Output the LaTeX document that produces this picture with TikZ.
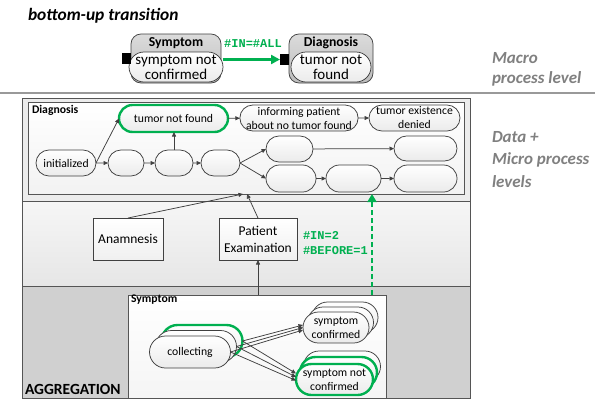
\documentclass[tikz,border=0pt]{standalone}
\usepackage{fontspec}
\setmainfont{Carlito}
\newfontfamily\codefont{Liberation Mono}
\usetikzlibrary{arrows.meta,shapes.misc,calc}

\definecolor{okgreen}{RGB}{0,176,80}
\definecolor{edgegray}{RGB}{64,64,64}
\definecolor{framegray}{RGB}{85,85,85}
\definecolor{labelgray}{RGB}{128,128,128}
\definecolor{bandA}{RGB}{236,236,236}
\definecolor{bandBtop}{RGB}{246,246,246}
\definecolor{bandBbot}{RGB}{230,230,230}
\definecolor{bandC}{RGB}{208,208,208}

\begin{document}
\begin{tikzpicture}[x=1pt,y=-1pt,
  every node/.style={inner sep=0pt, outer sep=0pt},
  txt/.style={font=\fontsize{11.7}{14}\selectfont},
  st/.style={rounded rectangle, draw=edgegray, line width=0.75pt,
    top color=white, bottom color=black!8, minimum height=26pt,
    align=center, txt},
  hl/.style={draw=okgreen, line width=2.4pt},
  arr/.style={draw=edgegray, line width=0.75pt,
    -{Triangle[length=4.5pt,width=4pt]}},
  box/.style={rectangle, draw=edgegray, line width=0.75pt,
    top color=white, bottom color=black!6, align=center,
    font=\fontsize{13.5}{17}\selectfont},
  lbl/.style={anchor=west, font=\bfseries\fontsize{11.7}{14}\selectfont},
  code/.style={font=\codefont\bfseries\fontsize{12}{16}\selectfont, text=okgreen},
  side/.style={anchor=north west, align=left, text=labelgray},
  macroout/.style={rectangle, rounded corners=10pt, draw=edgegray,
    line width=0.75pt, top color=black!14, bottom color=black!26,
    minimum width=90pt, minimum height=49pt},
  macroin/.style={rounded rectangle, draw=edgegray, line width=0.75pt,
    top color=white, bottom color=black!8, minimum height=30pt,
    align=center, font=\fontsize{15}{15}\selectfont},
  macrotitle/.style={font=\bfseries\fontsize{13.7}{16}\selectfont},
  port/.style={rectangle, fill=black, minimum width=9pt, minimum height=11pt},
  greenarr/.style={draw=okgreen, line width=2.4pt,
    -{Triangle[length=9pt,width=9pt]}},
  greendash/.style={draw=okgreen, line width=2.4pt,
    dash pattern=on 5pt off 3pt, -{Triangle[length=8pt,width=9pt]}}
]
\useasboundingbox (0,0) rectangle (595,400);
\fill[white] (0,0) rectangle (595,400);

% heading and level captions
\node[anchor=base west, font=\bfseries\itshape\fontsize{17.4}{20}\selectfont]
  (title) at (28,20) {bottom-up transition};
\node[side, font=\bfseries\itshape\fontsize{17}{20}\selectfont]
  (macrolevel) at (492,52) {Macro\\process level};
\node[side, font=\bfseries\itshape\fontsize{17}{22.5}\selectfont]
  (microlevel) at (492,131) {Data +\\Micro process\\levels};
\draw[black!40, line width=1.2pt] (0,93) -- (595,93);

% macro process level
\node[macroout] (symOuter) at (176,58.5) {};
\node[macroin, minimum width=86pt] (symInner) at (176,67) {symptom not\\confirmed};
\node[macrotitle] (symTitle) at (176,43) {Symptom};
\node[port] (symPort) at (126.5,58.5) {};

\node[macroout, minimum width=84pt] (diaOuter) at (331,58.5) {};
\node[macroin, minimum width=80pt] (diaInner) at (331,67) {tumor not\\found};
\node[macrotitle] (diaTitle) at (331,43) {Diagnosis};
\node[port] (diaPort) at (284.5,59.5) {};

\draw[greenarr] (symInner.east |- diaPort.west) -- (diaPort.west);
\node[code] (allLabel) at (253,44) {\#IN=\#ALL};

% the three bands
\fill[bandA] (22,98) rectangle (470,201);
\shade[top color=bandBtop, bottom color=bandBbot] (22,201) rectangle (470,286);
\fill[bandC] (22,286) rectangle (470,398);
\draw[framegray, line width=0.8pt] (22,98) rectangle (470,398);
\draw[framegray, line width=0.8pt] (22,201) -- (470,201);
\draw[framegray, line width=0.8pt] (22,286) -- (470,286);
\node[anchor=base west, font=\bfseries\fontsize{15.5}{18}\selectfont]
  (aggr) at (25,394) {AGGREGATION};

% Diagnosis process model
\node[rectangle, draw=framegray, line width=0.8pt, top color=white,
  bottom color=black!5, minimum width=436pt, minimum height=92pt]
  (diagbox) at (246,148) {};
\node[lbl] (diagLabel) at (32,110) {Diagnosis};

\node[st, minimum width=60pt] (init) at (66,163) {initialized};
\node[st, minimum width=36pt] (e1) at (126,163) {};
\node[st, minimum width=38pt] (e2) at (174,163) {};
\node[st, minimum width=39pt] (e3) at (220.5,163) {};
\node[st, hl, minimum width=109pt, minimum height=27pt] (tnf) at (173.5,118.5) {tumor not found};
\node[st, minimum width=118pt] (inf) at (299,118) {informing patient\\about no tumor found};
\node[st, minimum width=91pt] (den) at (414.5,118) {tumor existence\\denied};
\node[st, minimum width=47pt] (ua) at (289.5,149) {};
\node[st, minimum width=63pt, minimum height=25pt] (ub) at (425.5,148.5) {};
\node[st, minimum width=50pt, minimum height=27pt] (la) at (291,178.5) {};
\node[st, minimum width=55pt, minimum height=27pt] (lb) at (353.5,178.5) {};
\node[st, minimum width=63pt, minimum height=27pt] (lc) at (425.5,178.5) {};

\draw[arr] (init.east) -- (tnf.west);
\draw[arr] (init) -- (e1);
\draw[arr] (e1) -- (e2);
\draw[arr] (e2) -- (e3);
\draw[arr] (e2.north) -- (e2.north |- tnf.south);
\draw[arr] (tnf) -- (inf);
\draw[arr] (inf) -- (den);
\draw[arr] (e3.east) -- (ua.west);
\draw[arr] (e3.east) -- (la.west);
\draw[arr] (ua) -- (ub);
\draw[arr] (la) -- (lb);
\draw[arr] (lb) -- (lc);

% data level
\node[box, minimum width=70pt, minimum height=42pt] (anam) at (128,239) {Anamnesis};
\node[box, minimum width=78pt, minimum height=42pt] (patex) at (258,239) {Patient\\Examination};
\node[code, anchor=west] (inLabel) at (303,235) {\#IN=2};
\node[code, anchor=west] (beforeLabel) at (303,251) {\#BEFORE=1};
\draw[arr] (anam.north) -- ([xshift=-3pt]diagbox.south);
\draw[arr] (patex.north) -- ([xshift=1pt]diagbox.south);

% Symptom process model (aggregated instances)
\node[rectangle, draw=framegray, line width=0.8pt, top color=white,
  bottom color=black!4, minimum width=258pt, minimum height=103pt]
  (symbox) at (257,346.5) {};
\node[lbl] (symLabel) at (131,300) {Symptom};

\node[st, hl, minimum width=81pt, minimum height=32pt] (cl3) at (202,341) {};
\node[st, minimum width=81pt, minimum height=32pt] (cl2) at (196,346.5) {};
\node[st, minimum width=81pt, minimum height=32pt] (cl1) at (190,352) {collecting};

\node[st, minimum width=66pt, minimum height=31pt] (cf3) at (345,317.5) {};
\node[st, minimum width=66pt, minimum height=31pt] (cf2) at (340.5,322.5) {};
\node[st, minimum width=66pt, minimum height=31pt] (cf1) at (336,327.5) {symptom\\confirmed};

\node[st, minimum width=77pt, minimum height=31pt] (nc3) at (342,366.5) {};
\node[st, hl, minimum width=77pt, minimum height=31pt] (nc2) at (338.5,372.5) {};
\node[st, hl, minimum width=77pt, minimum height=31pt] (nc1) at (334.5,379.5) {symptom not\\confirmed};

\draw[arr] (cl3.east) -- ([yshift=2.5pt]cf1.west);
\draw[arr] (cl2.east) -- (cf1.west);
\draw[arr] (cl1.east) -- ([yshift=-2.5pt]cf1.west);
\draw[arr] (cl3.east) -- ([yshift=6pt]nc1.west);
\draw[arr] (cl2.east) -- ([yshift=2.5pt]nc1.west);
\draw[arr] (cl1.east) -- ([yshift=-1pt]nc1.west);

\draw[arr] (patex.south |- symbox.north) -- (patex.south);

% bottom-up transition between the levels
\coordinate (gbase) at ($(symbox.north east)+(-14,0)$);
\draw[greendash] (gbase) -- (gbase |- diagbox.south);
\end{tikzpicture}
\end{document}
